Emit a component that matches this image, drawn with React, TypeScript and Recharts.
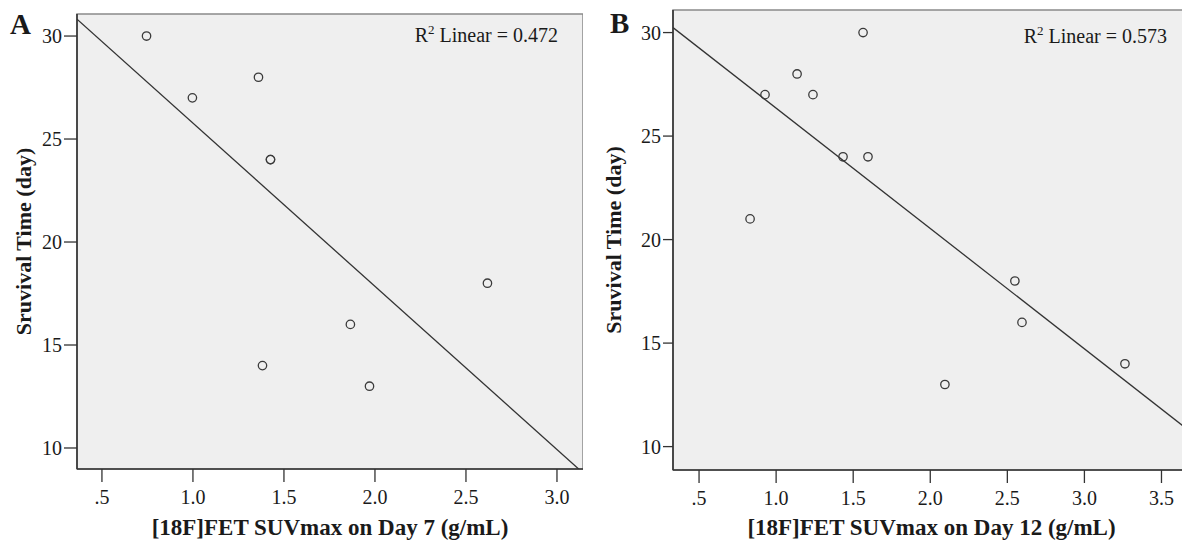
import React from "react";
import {
  ScatterChart,
  Scatter,
  XAxis,
  YAxis,
  CartesianGrid,
  ReferenceLine,
  ReferenceArea,
} from "recharts";

// panel A: SUVmax on day 7 vs survival
const suvDay7 = [0.745, 0.997, 1.36, 1.426, 1.426, 1.382, 1.865, 1.97, 2.618];
const survivalDay7 = [30, 27, 28, 24, 24, 14, 16, 13, 18];

// panel B: SUVmax on day 12 vs survival
const suvDay12 = [0.831, 0.928, 1.136, 1.239, 1.434, 1.564, 1.596, 2.095, 2.549, 2.595, 3.263];
const survivalDay12 = [21, 27, 28, 27, 24, 30, 24, 13, 18, 16, 14];

const xTicksA = [0.5, 1, 1.5, 2, 2.5, 3];
const xTicksB = [0.5, 1, 1.5, 2, 2.5, 3, 3.5];
const yTicks = [10, 15, 20, 25, 30];

const panelLetters = ["A", "B"];
const xTitles = ["[18F]FET SUVmax on Day 7 (g/mL)", "[18F]FET SUVmax on Day 12 (g/mL)"];
const yTitle = "Sruvival Time (day)";
const r2Values = ["0.472", "0.573"];

const FONT = '"Liberation Serif", "Times New Roman", serif';
const INK = "#1a1a1a";

function linearFit(xs: number[], ys: number[]) {
  const n = xs.length;
  const mx = xs.reduce((a, b) => a + b, 0) / n;
  const my = ys.reduce((a, b) => a + b, 0) / n;
  let sxy = 0;
  let sxx = 0;
  xs.forEach((x, i) => {
    sxy += (x - mx) * (ys[i] - my);
    sxx += (x - mx) * (x - mx);
  });
  const slope = sxy / sxx;
  return { slope, intercept: my - slope * mx };
}

const fmtX = (v: number) => (v === 0.5 ? ".5" : v.toFixed(1));

function OpenDot(props: any) {
  const { cx, cy } = props;
  if (cx == null || cy == null) return null;
  return <circle cx={cx} cy={cy} r={4.2} fill="none" stroke="#3a3a3a" strokeWidth={1.3} />;
}

interface PanelProps {
  xs: number[];
  ys: number[];
  xDomain: [number, number];
  yDomain: [number, number];
  xTicks: number[];
  xTitle: string;
  left: number;
  width: number;
  top: number;
  yAxisWidth: number;
  xAxisHeight: number;
  yTickSize: number;
}

function Panel(p: PanelProps) {
  const data = p.xs.map((x, i) => ({ x, y: p.ys[i] }));
  const { slope, intercept } = linearFit(p.xs, p.ys);
  const [x0, x1] = p.xDomain;
  const [y0, y1] = p.yDomain;
  return (
    <div style={{ position: "absolute", left: p.left, top: 0 }}>
      <ScatterChart
        width={p.width}
        height={541}
        margin={{ top: p.top, right: 0, bottom: 0, left: 0 }}
      >
        <CartesianGrid horizontal={false} vertical={false} fill="#efefef" fillOpacity={1} />
        <ReferenceArea
          x1={x0}
          x2={x1}
          y1={y0}
          y2={y1}
          fill="none"
          stroke="#8a8a8a"
          strokeWidth={1.5}
          ifOverflow="visible"
        />
        <XAxis
          type="number"
          dataKey="x"
          domain={p.xDomain}
          allowDataOverflow
          ticks={p.xTicks}
          tickFormatter={fmtX}
          height={p.xAxisHeight}
          tickSize={13}
          tickMargin={8}
          axisLine={{ stroke: "#333", strokeWidth: 1.6 }}
          tickLine={{ stroke: "#333", strokeWidth: 1.3 }}
          tick={{ fontSize: 20, fill: INK, fontFamily: FONT }}
          label={{
            value: p.xTitle,
            position: "insideBottom",
            offset: 6,
            fontSize: 23,
            fontWeight: "bold",
            fill: INK,
            fontFamily: FONT,
          }}
        />
        <YAxis
          type="number"
          dataKey="y"
          domain={p.yDomain}
          allowDataOverflow
          ticks={yTicks}
          width={p.yAxisWidth}
          tickSize={p.yTickSize}
          tickMargin={2}
          axisLine={{ stroke: "#333", strokeWidth: 1.6 }}
          tickLine={{ stroke: "#333", strokeWidth: 1.3 }}
          tick={{ fontSize: 20, fill: INK, fontFamily: FONT }}
          label={{
            value: yTitle,
            angle: -90,
            position: "insideLeft",
            offset: 23,
            fontSize: 22,
            fontWeight: "bold",
            fill: INK,
            fontFamily: FONT,
            style: { textAnchor: "middle" },
          }}
        />
        <ReferenceLine
          segment={[
            { x: x0, y: intercept + slope * x0 },
            { x: x1, y: intercept + slope * x1 },
          ]}
          stroke="#333"
          strokeWidth={1.3}
          ifOverflow="hidden"
        />
        <Scatter data={data} shape={<OpenDot />} isAnimationActive={false} />
      </ScatterChart>
    </div>
  );
}

function R2Label({ x, y, value }: { x: number; y: number; value: string }) {
  return (
    <text x={x} y={y} textAnchor="end" fontSize={20} fill={INK} fontFamily={FONT}>
      R
      <tspan dy={-8} fontSize={13}>2</tspan>
      <tspan dy={8}>{"\u00a0Linear = " + value}</tspan>
    </text>
  );
}

export default function App() {
  return (
    <div
      style={{
        position: "fixed",
        left: 0,
        top: 0,
        width: 1182,
        height: 541,
        overflow: "hidden",
        background: "#fff",
      }}
    >
      <Panel
        xs={suvDay7}
        ys={survivalDay7}
        xDomain={[0.363, 3.143]}
        yDomain={[8.98, 31.07]}
        xTicks={xTicksA}
        xTitle={xTitles[0]}
        left={0}
        width={583}
        top={14}
        yAxisWidth={77}
        xAxisHeight={72}
        yTickSize={13}
      />
      <Panel
        xs={suvDay12}
        ys={survivalDay12}
        xDomain={[0.331, 3.685]}
        yDomain={[8.87, 31.09]}
        xTicks={xTicksB}
        xTitle={xTitles[1]}
        left={590}
        width={600}
        top={10}
        yAxisWidth={83}
        xAxisHeight={71}
        yTickSize={10}
      />
      <svg
        width={1182}
        height={541}
        style={{ position: "absolute", left: 0, top: 0, pointerEvents: "none" }}
      >
        <text x={10} y={34} fontSize={29} fontWeight="bold" fill={INK} fontFamily={FONT}>
          {panelLetters[0]}
        </text>
        <text x={610} y={33} fontSize={29} fontWeight="bold" fill={INK} fontFamily={FONT}>
          {panelLetters[1]}
        </text>
        <R2Label x={558} y={42} value={r2Values[0]} />
        <R2Label x={1167} y={43} value={r2Values[1]} />
      </svg>
    </div>
  );
}
